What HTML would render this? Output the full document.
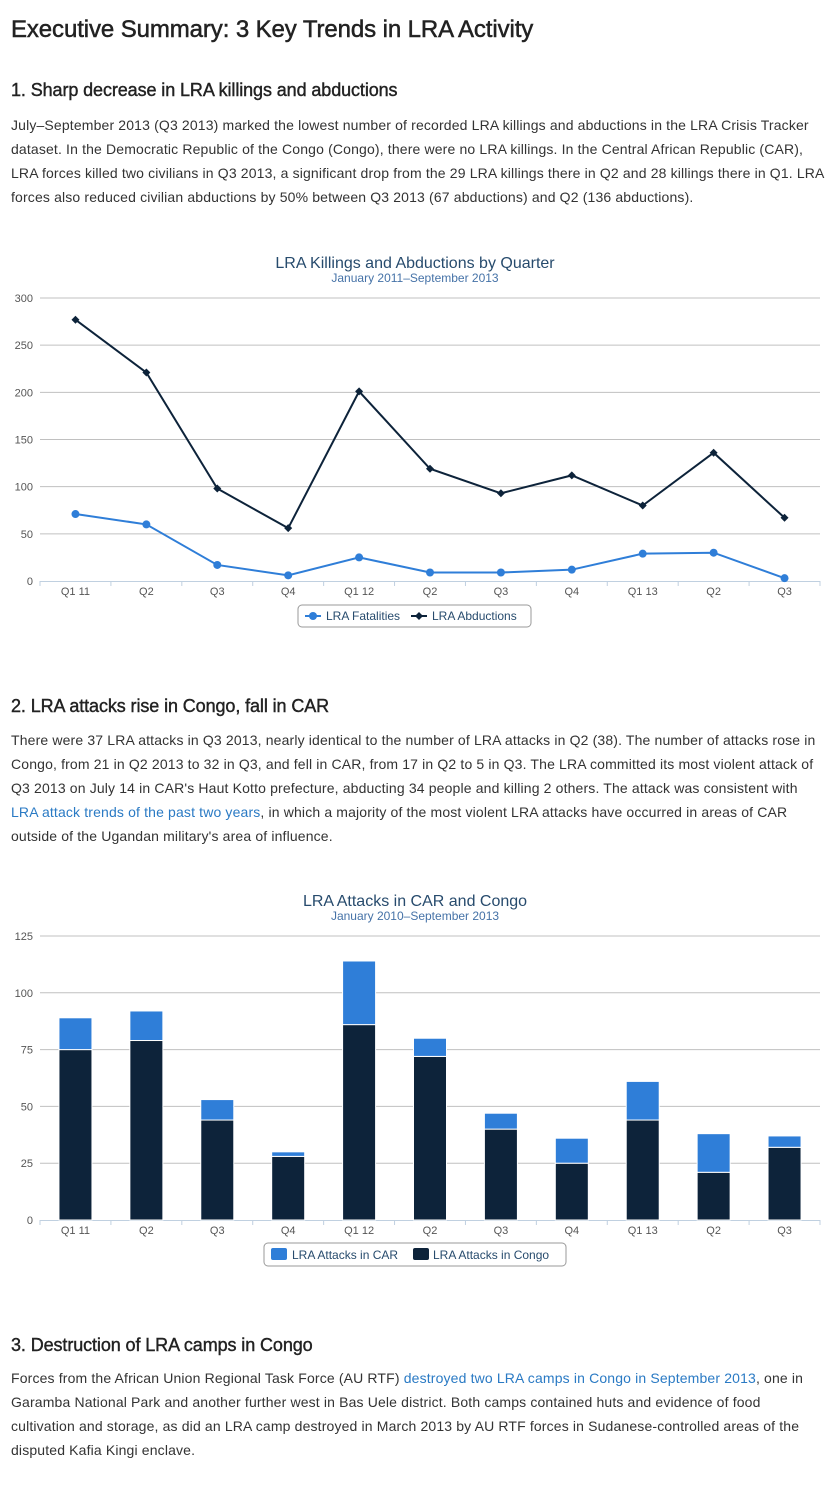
<!DOCTYPE html>
<html><head><meta charset="utf-8"><style>
body{margin:0;background:#fff;font-family:"Liberation Sans",sans-serif;color:#333;width:838px;height:1490px;position:relative;overflow:hidden}
h1,h2,p{margin:0;position:absolute;left:11px}
h1{font-size:24px;font-weight:normal;top:16px;letter-spacing:-0.1px;color:#222;-webkit-text-stroke:0.5px #222}
h2{font-size:18px;font-weight:normal;letter-spacing:-0.1px;color:#222;-webkit-text-stroke:0.4px #222}
p{font-size:14px;line-height:24px;width:830px;white-space:nowrap;color:#333;letter-spacing:0.15px}
a{color:#2a7ac4;text-decoration:none}
svg{position:absolute;left:0}
svg text{font-family:"Liberation Sans",sans-serif}
</style></head><body>
<h1>Executive Summary: 3 Key Trends in LRA Activity</h1>
<h2 style="top:80px">1. Sharp decrease in LRA killings and abductions</h2>
<p style="top:113px">July–September 2013 (Q3 2013) marked the lowest number of recorded LRA killings and abductions in the LRA Crisis Tracker<br>dataset. In the Democratic Republic of the Congo (Congo), there were no LRA killings. In the Central African Republic (CAR),<br>LRA forces killed two civilians in Q3 2013, a significant drop from the 29 LRA killings there in Q2 and 28 killings there in Q1. LRA<br>forces also reduced civilian abductions by 50% between Q3 2013 (67 abductions) and Q2 (136 abductions).</p>
<svg id="c1" width="838" height="400" style="top:240px"></svg>
<h2 style="top:696px">2. LRA attacks rise in Congo, fall in CAR</h2>
<p style="top:728px">There were 37 LRA attacks in Q3 2013, nearly identical to the number of LRA attacks in Q2 (38). The number of attacks rose in<br>Congo, from 21 in Q2 2013 to 32 in Q3, and fell in CAR, from 17 in Q2 to 5 in Q3. The LRA committed its most violent attack of<br>Q3 2013 on July 14 in CAR's Haut Kotto prefecture, abducting 34 people and killing 2 others. The attack was consistent with<br><a href="#">LRA attack trends of the past two years</a>, in which a majority of the most violent LRA attacks have occurred in areas of CAR<br>outside of the Ugandan military's area of influence.</p>
<svg id="c2" width="838" height="400" style="top:880px"></svg>
<h2 style="top:1335px">3. Destruction of LRA camps in Congo</h2>
<p style="top:1366px">Forces from the African Union Regional Task Force (AU RTF) <a href="#">destroyed two LRA camps in Congo in September 2013</a>, one in<br>Garamba National Park and another further west in Bas Uele district. Both camps contained huts and evidence of food<br>cultivation and storage, as did an LRA camp destroyed in March 2013 by AU RTF forces in Sudanese-controlled areas of the<br>disputed Kafia Kingi enclave.</p>
<script>
const categories=["Q1 11","Q2","Q3","Q4","Q1 12","Q2","Q3","Q4","Q1 13","Q2","Q3"];
const fatalities=[71,60,17,6,25,9,9,12,29,30,3];
const abductions=[277,221,98,56,201,119,93,112,80,136,67];
const ticks1=[0,50,100,150,200,250,300];
const congoAttacks=[75,79,44,28,86,72,40,25,44,21,32];
const carAttacks=[14,13,9,2,28,8,7,11,17,17,5];
const ticks2=[0,25,50,75,100,125];
const NS="http://www.w3.org/2000/svg";
function mk(svg,tag,attrs,txt){const e=document.createElementNS(NS,tag);for(const k in attrs)e.setAttribute(k,attrs[k]);if(txt!==undefined)e.textContent=txt;svg.appendChild(e);return e;}
function axes(svg,y0,y1,max,ticks,title,sub){
  const X0=40,X1=820,w=(X1-X0)/categories.length;
  const ys=v=>y0-(v/max)*(y0-y1);
  let t=mk(svg,'text',{x:415,y:y1-30,'text-anchor':'middle','font-size':16,fill:'#274b6d'},title);
  t=mk(svg,'text',{x:415,y:y1-16,'text-anchor':'middle','font-size':12,fill:'#4572a7'},sub);
  ticks.forEach(v=>{
    if(v>0){const l=mk(svg,'line',{x1:X0,x2:X1,y1:ys(v),y2:ys(v),stroke:'#c0c0c0','stroke-width':1});}
    const tx=mk(svg,'text',{x:33,y:ys(v)+4,'text-anchor':'end','font-size':11,fill:'#555'},v);
  });
  const ax=mk(svg,'line',{x1:X0,x2:X1,y1:y0+0.5,y2:y0+0.5,stroke:'#c0d0e0'});
  categories.forEach((c,i)=>{
    const tk=mk(svg,'line',{x1:X0+i*w,x2:X0+i*w,y1:y0,y2:y0+5,stroke:'#c0d0e0'});
    const tx=mk(svg,'text',{x:X0+(i+.5)*w,y:y0+14,'text-anchor':'middle','font-size':11,fill:'#555'},c);
  });
  const tk=mk(svg,'line',{x1:X1,x2:X1,y1:y0,y2:y0+5,stroke:'#c0d0e0'});
  return {xs:i=>X0+(i+.5)*w,ys,w};
}
(function(){
  const svg=document.getElementById('c1');
  const a=axes(svg,341,58,300,ticks1,'LRA Killings and Abductions by Quarter','January 2011–September 2013');
  const series=[[abductions,'#0d233a','abductions'],[fatalities,'#2f7ed8','fatalities']];
  series.forEach(([d,col,n])=>{
    const p=mk(svg,'polyline',{points:d.map((v,i)=>a.xs(i)+','+a.ys(v)).join(' '),fill:'none',stroke:col,'stroke-width':2});
    
    d.forEach((v,i)=>{
      let m;
      if(n==='fatalities')m=mk(svg,'circle',{cx:a.xs(i),cy:a.ys(v),r:4,fill:col});
      else{const x=a.xs(i),y=a.ys(v);m=mk(svg,'polygon',{points:`${x},${y-4} ${x+4},${y} ${x},${y+4} ${x-4},${y}`,fill:col});}
      
    });
  });
  const lg=mk(svg,'g',{});
  mk(lg,'rect',{x:298,y:365,width:233,height:22,rx:4,fill:'#fff',stroke:'#999'});
  mk(lg,'line',{x1:305,x2:321,y1:376,y2:376,stroke:'#2f7ed8','stroke-width':2});mk(lg,'circle',{cx:313,cy:376,r:4,fill:'#2f7ed8'});
  const t1=mk(lg,'text',{x:326,y:380,'font-size':12,fill:'#274b6d'},'LRA Fatalities');
  mk(lg,'line',{x1:411,x2:427,y1:376,y2:376,stroke:'#0d233a','stroke-width':2});mk(lg,'polygon',{points:'419,372 423,376 419,380 415,376',fill:'#0d233a'});
  const t2=mk(lg,'text',{x:432,y:380,'font-size':12,fill:'#274b6d'},'LRA Abductions');
})();
(function(){
  const svg=document.getElementById('c2');
  const a=axes(svg,340,56,125,ticks2,'LRA Attacks in CAR and Congo','January 2010–September 2013');
  const bw=33;
  categories.forEach((c,i)=>{
    const x=a.xs(i)-bw/2;
    const yc=a.ys(congoAttacks[i]),yt=a.ys(congoAttacks[i]+carAttacks[i]);
    const b1=mk(svg,'rect',{x,y:yc,width:bw,height:a.ys(0)-yc,fill:'#0d233a',stroke:'#fff','stroke-width':1});
    
    const b2=mk(svg,'rect',{x,y:yt,width:bw,height:yc-yt,fill:'#2f7ed8',stroke:'#fff','stroke-width':1});
    
  });
  const lg=mk(svg,'g',{});
  mk(lg,'rect',{x:264,y:363,width:302,height:23,rx:4,fill:'#fff',stroke:'#999'});
  mk(lg,'rect',{x:271,y:368,width:16,height:12,rx:2,fill:'#2f7ed8'});
  const t1=mk(lg,'text',{x:292,y:379,'font-size':12,fill:'#274b6d'},'LRA Attacks in CAR');
  mk(lg,'rect',{x:413,y:368,width:16,height:12,rx:2,fill:'#0d233a'});
  const t2=mk(lg,'text',{x:433,y:379,'font-size':12,fill:'#274b6d'},'LRA Attacks in Congo');
})();
</script>
</body></html>
